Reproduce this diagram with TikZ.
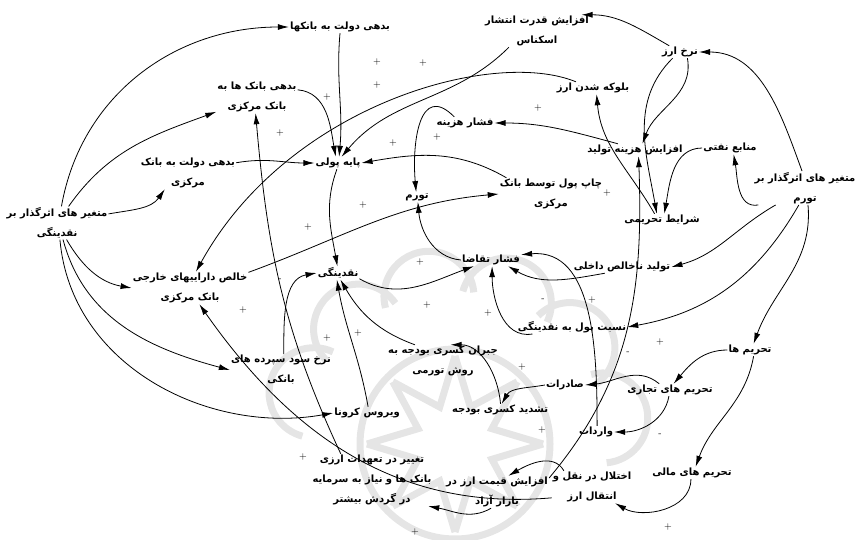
\documentclass[tikz,border=0pt]{standalone}
\usepackage{fontspec}
\usetikzlibrary{arrows.meta}
\newfontfamily\arabicfont[Script=Arabic]{DejaVu Sans}
\TeXXeTstate=1
\newcommand{\fa}[1]{\beginR #1\endR}
\newcommand{\sgn}[3]{\node[sgn] (#1) at (#2) {#3};}

\begin{document}
\begin{tikzpicture}[x=1pt,y=1pt,
  var/.style={font=\arabicfont\bfseries\fontsize{10}{20}\selectfont, align=center, inner sep=1pt},
  sgn/.style={font=\fontsize{10}{10}\selectfont, inner sep=0pt},
  arr/.style={-{Latex[length=11pt,width=6pt]}, line width=0.8pt},
  wm/.style={line width=7pt, black!10}]
\useasboundingbox (0,0) rectangle (858,539);

\foreach \a in {10,40,...,170}
  \draw[wm] (455,95) ++(\a:150) ++(\a-95:45) arc[start angle=\a-95, end angle=\a+95, radius=45];
\draw[wm] (455,95) circle[radius=95];
\draw[wm] (455,95) \foreach \a in {0,45,...,315} {+(\a:88) -- +(\a+22.5:40) -- +(\a+45:88)};

\node[var] (ansk) at (537,508) {\fa{افزایش قدرت انتشار}\\\fa{اسکناس}};
\node[var] (bdbk) at (340,512) {\fa{بدهی دولت به بانکها}};
\node[var] (nerkh) at (680,487) {\fa{نرخ ارز}};
\node[var] (bbbm) at (257,442) {\fa{بدهی بانک ها به}\\\fa{بانک مرکزی}};
\node[var] (block) at (593,451) {\fa{بلوکه شدن ارز}};
\node[var] (fhaz) at (465,416) {\fa{فشار هزینه}};
\node[var] (ahazt) at (635,389) {\fa{افزایش هزینه تولید}};
\node[var] (naft) at (730,391) {\fa{منابع نفتی}};
\node[var] (payeh) at (338,376) {\fa{پایه پولی}};
\node[var] (bdbm) at (188,366) {\fa{بدهی دولت به بانک}\\\fa{مرکزی}};
\node[var] (tavarrom) at (417,342) {\fa{تورم}};
\node[var] (chap) at (551,345) {\fa{چاپ پول توسط بانک}\\\fa{مرکزی}};
\node[var] (sharayet) at (662,319) {\fa{شرایط تحریمی}};
\node[var] (mtav) at (805,351) {\fa{متغیر های اثرگذار بر}\\\fa{تورم}};
\node[var] (mnaq) at (57,316) {\fa{متغیر های اثرگذار بر}\\\fa{نقدینگی}};
\node[var] (gdp) at (622,272) {\fa{تولید ناخالص داخلی}};
\node[var] (ftaq) at (491,279) {\fa{فشار تقاضا}};
\node[var] (naqd) at (338,266) {\fa{نقدینگی}};
\node[var] (khales) at (190,251) {\fa{خالص داراییهای خارجی}\\\fa{بانک مرکزی}};
\node[var] (nesbat) at (572,212) {\fa{نسبت پول به نقدینگی}};
\node[var] (tahrim) at (750,189) {\fa{تحریم ها}};
\node[var] (sood) at (281,169) {\fa{نرخ سود سپرده های}\\\fa{بانکی}};
\node[var] (jobran) at (443,178) {\fa{جبران کسری بودجه به}\\\fa{روش تورمی}};
\node[var] (sader) at (565,154) {\fa{صادرات}};
\node[var] (ttejari) at (670,149) {\fa{تحریم های تجاری}};
\node[var] (tashdid) at (500,129) {\fa{تشدید کسری بودجه}};
\node[var] (corona) at (367,126) {\fa{ویروس کرونا}};
\node[var] (varedat) at (596,107) {\fa{واردات}};
\node[var] (taghyir) at (372,59) {\fa{تغییر در تعهدات ارزی}\\\fa{بانک ها و نیاز به سرمایه}\\\fa{در گردش بیشتر}};
\node[var] (ghimat) at (497,47) {\fa{افزایش قیمت ارز در}\\\fa{بازار آزاد}};
\node[var] (ekhtelal) at (592,52) {\fa{اختلال در نقل و}\\\fa{انتقال ارز}};
\node[var] (tmali) at (692,66) {\fa{تحریم های مالی}};

\draw[arr] (mnaq.75) to[out=80,in=180] (bdbk.west);
\draw[arr] (mnaq.55) to[out=55,in=200] (bbbm.200);
\draw[arr] (mnaq.10) to[out=10,in=235] (bdbm.215);
\draw[arr] (mnaq.-60) to[out=-60,in=170] (khales.west);
\draw[arr] (mnaq.-70) to[out=-75,in=165] (sood.west);
\draw[arr] (mnaq.-80) to[out=-85,in=190] (corona.west);
\draw[arr] (bdbk.south) to[out=-95,in=85] (payeh.80);
\draw[arr] (ansk.210) to[out=-135,in=50] (payeh.60);
\draw[arr] (bbbm.10) to[out=-5,in=100] (payeh.110);
\draw[arr] (bdbm.12) to[out=10,in=180] (payeh.west);
\draw[arr] (chap.160) to[out=150,in=10] (payeh.east);
\draw[arr] (ahazt.160) to[out=165,in=0] (fhaz.east);
\draw[arr] (fhaz.150) to[out=135,in=95,looseness=1.5] (tavarrom.100);
\draw[arr] (khales.15) to[out=20,in=185] (chap.west);
\draw[arr] (payeh.-100) to[out=-110,in=100] (naqd.95);
\draw[arr] (ftaq.west) to[out=175,in=-85] (tavarrom.-80);
\draw[arr] (naqd.-15) to[out=-30,in=200] (ftaq.-160);
\draw[arr] (sood.80) to[out=90,in=190] (naqd.west);
\draw[arr] (corona.80) to[out=100,in=-80] (naqd.-100);
\draw[arr] (jobran.150) to[out=160,in=-60] (naqd.-70);
\draw[arr] (gdp.-160) to[out=190,in=-30] (ftaq.-20);
\draw[arr] (nesbat.-170) to[out=190,in=-90] (ftaq.-80);
\draw[arr] (varedat.80) to[out=90,in=5] (ftaq.10);
\draw[arr] (mtav.-150) to[out=210,in=15] (gdp.east);
\draw[arr] (mtav.-110) to[out=-120,in=10] (nesbat.east);
\draw[arr] (mtav.-80) to[out=-85,in=70] (tahrim.60);
\draw[arr] (mtav.-160) to[out=190,in=-80] (naft.-60);
\draw[arr] (mtav.100) to[out=110,in=0] (nerkh.east);
\draw[arr] (nerkh.150) to[out=150,in=0] (ansk.20);
\draw[arr] (nerkh.-40) to[out=-80,in=70] (ahazt.40);
\draw[arr] (nerkh.-140) to[out=-135,in=100] (sharayet.130);
\draw[arr] (naft.west) to[out=180,in=80] (sharayet.70);
\draw[arr] (sharayet.140) to[out=120,in=-85] (block.-60);
\draw[arr] (ghimat.15) to[out=50,in=-88] (ahazt.-60);
\draw[arr] (ekhtelal.150) to[out=120,in=30] (ghimat.55);
\draw[arr] (ghimat.-110) to[out=-150,in=-10] (taghyir.-25);
\draw[arr] (tmali.-100) to[out=-90,in=-30] (ekhtelal.-35);
\draw[arr] (tahrim.west) to[out=180,in=50] (ttejari.60);
\draw[arr] (tahrim.-60) to[out=-100,in=70] (tmali.60);
\draw[arr] (ttejari.-100) to[out=-100,in=0] (varedat.east);
\draw[arr] (ttejari.150) to[out=140,in=5] (sader.east);
\draw[arr] (sader.west) to[out=190,in=60] (tashdid.75);
\draw[arr] (tashdid.85) to[out=95,in=0] (jobran.65);
\draw[arr] (ekhtelal.-165) to[out=185,in=-55] (khales.-60);
\draw[arr] (taghyir.140) to[out=115,in=-85] (bbbm.-95);
\draw[arr] (block.160) .. controls +(-83,34) and +(92,167) .. (khales.70);

\sgn{s1}{377,477}{+}
\sgn{s2}{377,454}{+}
\sgn{s3}{423,476}{+}
\sgn{s4}{327,442}{+}
\sgn{s5}{280,406}{+}
\sgn{s6}{393,396}{+}
\sgn{s7}{437,402}{+}
\sgn{s8}{538,431}{+}
\sgn{s9}{363,334}{+}
\sgn{s10}{308,312}{+}
\sgn{s11}{420,277}{+}
\sgn{s12}{427,234}{+}
\sgn{s13}{280,259}{-}
\sgn{s14}{243,229}{+}
\sgn{s15}{327,201}{+}
\sgn{s16}{358,206}{+}
\sgn{s17}{488,226}{+}
\sgn{s18}{543,239}{-}
\sgn{s19}{592,239}{+}
\sgn{s20}{607,346}{+}
\sgn{s21}{660,197}{+}
\sgn{s22}{628,186}{-}
\sgn{s23}{522,172}{+}
\sgn{s24}{542,109}{+}
\sgn{s25}{660,104}{-}
\sgn{s26}{303,82}{+}
\sgn{s27}{415,7}{+}
\sgn{s28}{668,12}{+}
\end{tikzpicture}
\end{document}
